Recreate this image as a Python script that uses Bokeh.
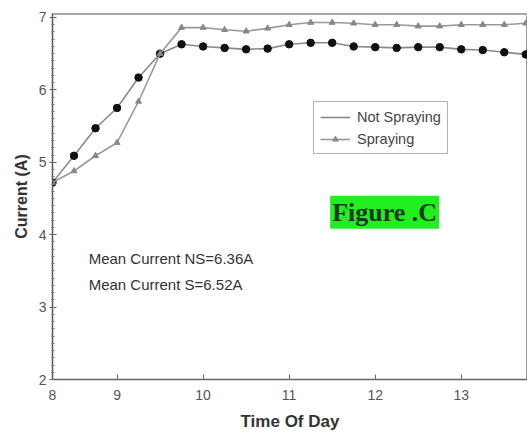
from bokeh.plotting import figure
from bokeh.models import (Range1d, FixedTicker, Legend, LegendItem, Label, Span)
from bokeh.embed import file_html
from bokeh.resources import INLINE

# ---- data ----
time_of_day = [8.25, 8.5, 8.75, 9.0, 9.25, 9.5, 9.75, 10.0, 10.25, 10.5, 10.75, 11.0,
               11.25, 11.5, 11.75, 12.0, 12.25, 12.5, 12.75, 13.0, 13.25, 13.5, 13.75]
not_spraying = [4.72, 5.09, 5.47, 5.75, 6.17, 6.50, 6.63, 6.60, 6.58, 6.56, 6.57, 6.63,
                6.65, 6.65, 6.60, 6.59, 6.58, 6.59, 6.59, 6.56, 6.55, 6.52, 6.49]
spraying = [4.72, 4.88, 5.09, 5.27, 5.84, 6.50, 6.86, 6.86, 6.83, 6.81, 6.85, 6.90,
            6.93, 6.93, 6.92, 6.90, 6.90, 6.88, 6.88, 6.90, 6.90, 6.90, 6.92]
x_ticks = [8.25, 9, 10, 11, 12, 13]
x_tick_labels = {8.25: "8"}
y_ticks = [2, 3, 4, 5, 6, 7]
mean_texts = ["Mean Current NS=6.36A", "Mean Current S=6.52A"]

FONT = "Liberation Sans"

p = figure(width=527, height=433, output_backend="svg", toolbar_location=None,
           x_range=Range1d(8.25, 13.77), y_range=Range1d(2, 7.055),
           min_border_left=52, min_border_right=0, min_border_top=13,
           min_border_bottom=52)
p.grid.visible = False
p.outline_line_color = "#999999"
p.outline_line_width = 1
p.background_fill_color = "white"
p.border_fill_color = "white"
p.border_fill_alpha = 0

# axes
xa = p.xaxis[0]
xa.ticker = FixedTicker(ticks=x_ticks)
xa.major_label_overrides = x_tick_labels
xa.major_tick_in = 5
xa.major_tick_out = 0
xa.minor_tick_line_color = None
xa.axis_line_color = "#666666"
xa.axis_line_width = 1.5
xa.major_tick_line_color = "#666666"
xa.major_label_text_font = FONT
xa.major_label_text_font_size = "14px"
xa.major_label_text_color = "#555555"
xa.major_label_standoff = 10
xa.axis_label = "Time Of Day"
xa.axis_label_text_font = FONT
xa.axis_label_text_font_style = "bold"
xa.axis_label_text_font_size = "17px"
xa.axis_label_text_color = "#333333"
xa.axis_label_standoff = 9

ya = p.yaxis[0]
ya.ticker = FixedTicker(ticks=y_ticks, minor_ticks=[2 + i * 0.1 for i in range(51)])
ya.major_tick_in = 4
ya.major_tick_out = 3
ya.minor_tick_in = 2
ya.minor_tick_out = 1
ya.axis_line_color = "#555555"
ya.axis_line_width = 1.5
ya.major_tick_line_color = "#555555"
ya.minor_tick_line_color = "#777777"
ya.major_label_text_font = FONT
ya.major_label_text_font_size = "14px"
ya.major_label_text_color = "#555555"
ya.major_label_standoff = 3
ya.axis_label = "Current (A)"
ya.axis_label_text_font = FONT
ya.axis_label_text_font_style = "bold"
ya.axis_label_text_font_size = "16px"
ya.axis_label_text_color = "#333333"
ya.axis_label_standoff = 6

# top border line
p.add_layout(Span(location=7.055, dimension="width", line_color="#aaaaaa", line_width=3))

# series
ns_line = p.line(time_of_day, not_spraying, line_color="#8a8a8a", line_width=1.6)
p.scatter(time_of_day, not_spraying, marker="circle", size=7.5, fill_color="#111111",
          line_color="#111111")
s_line = p.line(time_of_day, spraying, line_color="#9a9a9a", line_width=1.6)
s_pts = p.scatter(time_of_day, spraying, marker="triangle", size=6, fill_color="#888888",
                  line_color="#888888")

legend = Legend(items=[LegendItem(label="Not Spraying", renderers=[ns_line]),
                       LegendItem(label="Spraying", renderers=[s_line, s_pts])],
                location=(261, 225), orientation="vertical",
                border_line_color="#666666", border_line_width=1,
                background_fill_color="white", background_fill_alpha=1,
                label_text_font=FONT, label_text_font_size="14.5px",
                label_text_color="#444444", glyph_width=30, glyph_height=14,
                label_height=17, spacing=5, padding=6, margin=0, label_standoff=7)
p.add_layout(legend)

# annotations
p.add_layout(Label(x=8.67, y=3.67, text=mean_texts[0], text_font=FONT,
                   text_font_size="15px", text_color="#333333",
                   text_baseline="middle", text_align="left"))
p.add_layout(Label(x=8.67, y=3.31, text=mean_texts[1], text_font=FONT,
                   text_font_size="15px", text_color="#333333",
                   text_baseline="middle", text_align="left"))
p.add_layout(Label(x=12.11, y=4.31, text="Figure .C", text_font="Liberation Serif",
                   text_font_style="bold", text_font_size="26px", text_color="#1a3a1a",
                   text_baseline="middle", text_align="center",
                   background_fill_color="#22ee22", padding=2))

html = file_html(p, INLINE)
html = html.replace("<body>",
                    '<body style="background: linear-gradient(#8a96ae 0px, #8a96ae 3px, white 3px) no-repeat; background-color: white;">',
                    1)
open("out.html", "w").write(html)
